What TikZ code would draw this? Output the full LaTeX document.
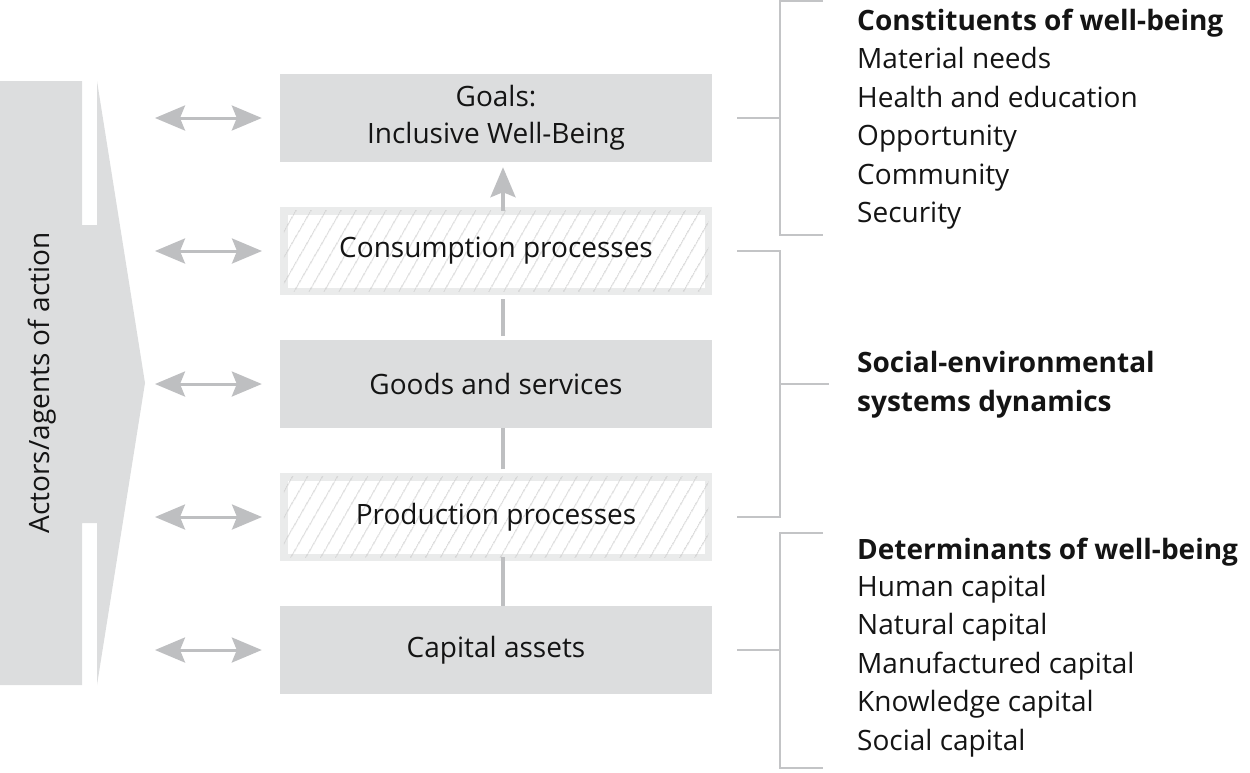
\documentclass[tikz,border=0pt]{standalone}
\usepackage{fontspec}
\setmainfont{Open Sans}
\usetikzlibrary{arrows.meta,patterns.meta}
\definecolor{boxgray}{RGB}{220,221,222}
\definecolor{arrgray}{RGB}{190,191,193}
\definecolor{hatchborder}{RGB}{234,235,235}
\definecolor{hatchline}{RGB}{200,200,200}
\definecolor{brgray}{RGB}{195,196,198}
\definecolor{txt}{RGB}{20,20,20}
\tikzset{
  x=1pt, y=-1pt,
  every node/.style={text=txt, font=\fontsize{28}{37}\selectfont},
  solidbox/.style={fill=boxgray, minimum width=432pt, minimum height=88pt, inner sep=0pt, align=center},
  hatchbox/.style={draw=hatchborder, line width=7.5pt,
     postaction={pattern={Lines[angle=60,distance=13pt,line width=0.9pt]}, pattern color=hatchline},
     fill=white, minimum width=424.5pt, minimum height=80.5pt, inner sep=0pt, align=center},
  dblarrow/.style={arrgray, line width=3pt, {Stealth[length=30pt,width=25pt,inset=5pt]}-{Stealth[length=30pt,width=25pt,inset=5pt]}},
  uparrow/.style={arrgray, line width=3.5pt, -{Stealth[length=30pt,width=25pt,inset=5pt]}},
  link/.style={arrgray, line width=3.5pt},
  bracket/.style={brgray, line width=2pt},
  sidetext/.style={anchor=base west, inner sep=0pt},
  headtext/.style={anchor=base west, inner sep=0pt, font=\fontsize{28}{37}\selectfont\bfseries},
}
\begin{document}
\begin{tikzpicture}
\useasboundingbox (0,0) rectangle (1250,772);
% actors shape
\fill[boxgray] (0,81) -- (82,81) -- (82,225) -- (97,225) -- (97,81) -- (145,383)
  -- (97,685) -- (97,523) -- (82,523) -- (82,685) -- (0,685) -- cycle;
\node[rotate=90] (actors) at (42,383) {Actors/agents of action};

% boxes
\node[solidbox] (goals) at (496,118) {Goals:\\Inclusive Well-Being};
\node[hatchbox] (cons) at (496,251) {Consumption processes};
\node[solidbox] (goods) at (496,384) {Goods and services};
\node[hatchbox] (prod) at (496,517) {Production processes};
\node[solidbox] (cap) at (496,650) {Capital assets};

% vertical links
\draw[uparrow] ([xshift=7pt,yshift=-3.75pt]cons.north) -- ([xshift=7pt,yshift=-5pt]goals.south);
\draw[link] ([xshift=7pt,yshift=3.75pt]goods.north) -- ([xshift=7pt,yshift=-3.75pt]cons.south);
\draw[link] ([xshift=7pt,yshift=3.75pt]prod.north) -- ([xshift=7pt]goods.south);
\draw[link] ([xshift=7pt]cap.north) -- ([xshift=7pt,yshift=3.75pt]prod.south);

% double arrows
\foreach \n/\yy in {goals/118,cons/251,goods/384,prod/517,cap/650}{
  \coordinate (l\n) at (155,\yy);
  \draw[dblarrow] (l\n) -- ([xshift=-18pt]\n.west);
}

% brackets
\coordinate (b1t) at (823,1);
\coordinate (b1b) at (823,235);
\draw[bracket] (b1t) -- (780,1) -- (780,235) -- (b1b);
\draw[bracket] ([xshift=25pt]goals.east) -- (780,118);

\draw[bracket] ([xshift=25pt]cons.east) -| (780,384) |- ([xshift=25pt]prod.east);
\coordinate (b2m) at (829,384);
\draw[bracket] (780,384) -- (b2m);

\coordinate (b3t) at (823,533);
\coordinate (b3b) at (823,768);
\draw[bracket] (b3t) -- (780,533) -- (780,768) -- (b3b);
\draw[bracket] ([xshift=25pt]cap.east) -- (780,650);

% right texts
\node[headtext] (c0) at (857,30) {Constituents of well-being};
\node[sidetext] (c1) at (857,68) {Material needs};
\node[sidetext] (c2) at (857,107) {Health and education};
\node[sidetext] (c3) at (857,145) {Opportunity};
\node[sidetext] (c4) at (857,184) {Community};
\node[sidetext] (c5) at (857,222) {Security};

\node[headtext] (s0) at (857,372) {Social-environmental};
\node[headtext] (s1) at (857,411) {systems dynamics};

\node[headtext] (d0) at (857,559) {Determinants of well-being};
\node[sidetext] (d1) at (857,596) {Human capital};
\node[sidetext] (d2) at (857,634) {Natural capital};
\node[sidetext] (d3) at (857,673) {Manufactured capital};
\node[sidetext] (d4) at (857,711) {Knowledge capital};
\node[sidetext] (d5) at (857,750) {Social capital};
\end{tikzpicture}
\end{document}
